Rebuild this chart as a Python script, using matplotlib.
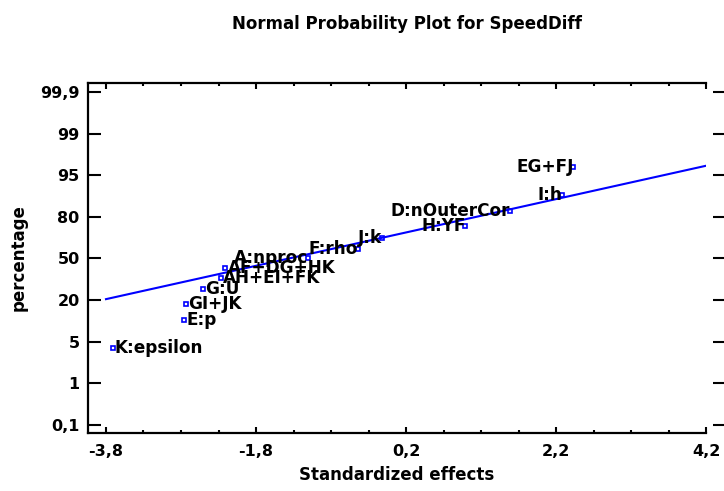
import numpy as np
import matplotlib
matplotlib.use("Agg")
import matplotlib.pyplot as plt

plt.rcParams["font.family"] = ["DejaVu Sans"]
plt.rcParams["font.weight"] = "bold"

# effects (x = standardized effect, y = position on the probability scale)
effect_names = ["K:epsilon", "E:p", "GI+JK", "G:U", "AH+EI+FK", "AF+DG+HK", "A:nproc",
                "F:rho", "J:k", "H:YF", "D:nOuterCor", "I:h", "EG+FJ"]
effect_values = [-3.71, -2.76, -2.73, -2.51, -2.27, -2.21, -1.11,
                 -0.44, -0.12, 0.99, 1.58, 2.28, 2.43]
effect_positions = [1.84, 2.52, 2.90, 3.26, 3.54, 3.77, 4.01,
                    4.23, 4.50, 4.78, 5.13, 5.53, 6.19]

fit_x = [-3.8, 4.2]
fit_y = [3.02, 6.23]

pct_labels = ["0,1", "1", "5", "20", "50", "80", "95", "99", "99,9"]
x_ticks = [-3.8, -1.8, 0.2, 2.2, 4.2]
x_tick_labels = ["-3,8", "-1,8", "0,2", "2,2", "4,2"]

fig = plt.figure(figsize=(7.24, 4.91), dpi=100)
ax = fig.add_axes([0.1215, 0.1181, 0.854, 0.7129])

ax.plot(fit_x, fit_y, color="#0000ff", lw=1.5, zorder=2)
ax.plot(effect_values, effect_positions, ls="none", marker="s", ms=3.5,
        mfc="none", mec="#0000ff", mew=1.2, zorder=3)

for name, xv, yv in zip(effect_names, effect_values, effect_positions):
    ha = "left" if xv < -1.5 else "right"
    dx = 0.03 if ha == "left" else 0.0
    ax.text(xv + dx, yv, name, ha=ha, va="center", fontsize=12.2,
            fontweight="bold", color="black", zorder=4)

ax.set_xlim(-4.04, 4.2)
ax.set_ylim(-0.2, 8.22)

ax.set_xticks(x_ticks)
ax.set_xticklabels(x_tick_labels)
ax.set_xticks([v for v in np.arange(-3.3, 4.2, 0.5)], minor=True)
ax.set_yticks(range(len(pct_labels)))
ax.set_yticklabels(pct_labels)

for s in ["top", "bottom", "left"]:
    ax.spines[s].set_linewidth(1.6)
ax.spines["right"].set_position(("outward", 5))
ax.spines["right"].set_visible(False)

ax.tick_params(axis="x", which="major", direction="in", length=4, width=1.5,
               top=True, labelsize=11.5, pad=8)
ax.tick_params(axis="x", which="minor", direction="in", length=2.5, width=1.5, top=True)
ax.tick_params(axis="y", which="major", direction="in", length=9, width=1.5,
               labelsize=11.5, pad=6, right=True)
for t in ax.yaxis.get_major_ticks():
    t.tick2line.set_marker(matplotlib.lines.TICKRIGHT)
    t.tick2line.set_markersize(8)

ax.set_xlabel("Standardized effects", fontsize=12, fontweight="bold", labelpad=5)
ax.set_ylabel("percentage", fontsize=12, fontweight="bold", labelpad=9)
fig.suptitle("Normal Probability Plot for SpeedDiff", x=0.562, y=0.97,
             fontsize=12, fontweight="bold")

fig.savefig("out.png", dpi=100)
